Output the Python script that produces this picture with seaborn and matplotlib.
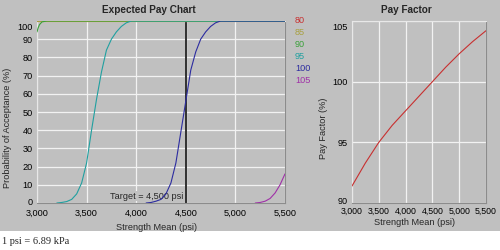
import matplotlib
matplotlib.use("Agg")
import matplotlib.pyplot as plt
import matplotlib.transforms as mtransforms
from matplotlib.lines import Line2D
from matplotlib.patches import Rectangle
import seaborn as sns
import pandas as pd

# ---------------- data ----------------
series_names = ["80", "85", "90", "95", "100", "105"]
series_colors = ["#c83030", "#a8a040", "#38a038", "#20a0a0", "#2c2ca0", "#a030a8"]

x_80 = [3000, 5500]
y_80 = [100, 100]
x_85 = [3000, 5500]
y_85 = [100, 100]
x_90 = [3000, 3010, 3025, 3050, 3100, 5500]
y_90 = [94, 96, 98, 99.5, 100, 100]
x_95 = [3200, 3250, 3300, 3350, 3400, 3450, 3500, 3550, 3600, 3650, 3700, 3750, 3800, 3850, 3900, 3950, 5500]
y_95 = [0, 0.3, 0.8, 2, 5, 11, 22, 40, 57, 72, 84, 90, 94, 97, 99, 100, 100]
x_100 = [4100, 4150, 4200, 4250, 4300, 4350, 4400, 4450, 4500, 4550, 4600, 4650, 4700, 4750, 4800, 4850, 5500]
y_100 = [0, 0.3, 1, 2, 5, 11, 22, 39, 56, 73, 83, 90, 94, 97, 99, 100, 100]
x_105 = [5200, 5250, 5300, 5350, 5400, 5450, 5500]
y_105 = [0, 0.3, 1, 2.5, 5.5, 10, 16]

target_psi = 4500
target_label = "Target = 4,500 psi"

pay_x = [3000, 3250, 3500, 3750, 4000, 4250, 4500, 4750, 5000, 5250, 5500]
pay_y = [91.4, 93.3, 95.0, 96.4, 97.6, 98.8, 100.0, 101.2, 102.3, 103.3, 104.2]

x_ticks = [3000, 3500, 4000, 4500, 5000, 5500]
x_ticklabels = ["3,000", "3,500", "4,000", "4,500", "5,000", "5,500"]
left_yticks = [0, 10, 20, 30, 40, 50, 60, 70, 80, 90, 100]
right_yticks = [90, 95, 100, 105]

# ---------------- build long table ----------------
xs = [x_80, x_85, x_90, x_95, x_100, x_105]
ys = [y_80, y_85, y_90, y_95, y_100, y_105]
rows = []
for name, xv, yv in zip(series_names, xs, ys):
    for a, b in zip(xv, yv):
        rows.append({"series": name, "x": a, "y": b})
df_pa = pd.DataFrame(rows)
df_pay = pd.DataFrame({"x": pay_x, "y": pay_y})
palette = dict(zip(series_names, series_colors))

# ---------------- style ----------------
sns.set_style("white")
plt.rcParams["font.family"] = ["Liberation Sans", "DejaVu Sans"]
BG = "#c0c0c0"
FS = 6.6

fig = plt.figure(figsize=(5, 2.5), dpi=100)
fig.patch.set_facecolor("white")
fig.patches.append(Rectangle((0, 19 / 250), 1, 231 / 250, transform=fig.transFigure,
                             facecolor=BG, edgecolor="none", zorder=-10))

ax1 = fig.add_axes([37 / 500, 1 - 203 / 250, 248 / 500, 182 / 250])
ax2 = fig.add_axes([352 / 500, 1 - 203 / 250, 134 / 500, 182 / 250])

for ax in (ax1, ax2):
    ax.set_facecolor(BG)
    ax.set_axisbelow(True)
    ax.grid(True, color="#f2f2f2", lw=0.9)
    for s in ("top", "left"):
        ax.spines[s].set_color("#e8e8e8")
        ax.spines[s].set_linewidth(0.8)
    for s in ("bottom", "right"):
        ax.spines[s].set_color("#8c8c8c")
        ax.spines[s].set_linewidth(0.8)
    ax.tick_params(length=0, labelsize=FS, colors="black")
    ax.tick_params(axis="y", pad=3)
    ax.set_xlim(3000, 5500)
    ax.set_xticks(x_ticks)
    ax.set_xticklabels(x_ticklabels)
ax1.tick_params(axis="x", pad=4)
ax2.tick_params(axis="x", pad=2.5, labelsize=6.3)

# left panel
sns.lineplot(data=df_pa, x="x", y="y", hue="series", hue_order=series_names,
             palette=palette, estimator=None, sort=False, lw=0.8, legend=False,
             ax=ax1, zorder=3)
ax1.set_ylim(0, 100)
ax1.set_yticks(left_yticks)
ax1.axvline(target_psi, color="#303030", lw=1.4, zorder=2.5)
ax1.annotate(target_label, xy=(target_psi, 0), xytext=(-1.5, 1.5), textcoords="offset points",
             ha="right", va="bottom", fontsize=FS, zorder=2.6,
             bbox=dict(boxstyle="square,pad=0.05", facecolor=BG, edgecolor="none"))
ax1.set_xlabel("")
ax1.set_ylabel("")

# right panel
sns.lineplot(data=df_pay, x="x", y="y", color="#c83030", lw=0.8, ax=ax2, zorder=3)
ax2.set_ylim(90, 105)
ax2.set_yticks(right_yticks)
ax2.set_xlabel("")
ax2.set_ylabel("")


def nudge(label, dy_px):
    label.set_transform(label.get_transform() +
                        mtransforms.ScaledTranslation(0, dy_px / 100, fig.dpi_scale_trans))


yl1 = ax1.get_yticklabels()
nudge(yl1[-1], -5)
nudge(yl1[0], 1.5)
yl2 = ax2.get_yticklabels()
nudge(yl2[-1], -6)
nudge(yl2[0], 2.5)

# legend as coloured text
handles = [Line2D([], [], color=c, lw=0) for c in series_colors]
fig.legend(handles, series_names, loc="upper left", bbox_to_anchor=(295 / 500, 1 - 16 / 250),
           frameon=False, handlelength=0, handletextpad=0, labelcolor=series_colors,
           fontsize=FS, labelspacing=0.33, borderpad=0, borderaxespad=0)

# titles and labels
fig.text(149 / 500, 1 - 10 / 250, "Expected Pay Chart", ha="center", va="center",
         fontsize=7.2, fontweight="bold")
fig.text(406 / 500, 1 - 10 / 250, "Pay Factor", ha="center", va="center",
         fontsize=7.2, fontweight="bold")
fig.text(8 / 500, 1 - 128 / 250, "Probability of Acceptance (%)", rotation=90,
         ha="center", va="center", fontsize=FS)
fig.text(324 / 500, 1 - 128 / 250, "Pay Factor (%)", rotation=90,
         ha="center", va="center", fontsize=FS)
fig.text(157 / 500, 1 - 228 / 250, "Strength Mean (psi)", ha="center", va="center", fontsize=FS)
fig.text(415 / 500, 1 - 222.5 / 250, "Strength Mean (psi)", ha="center", va="center", fontsize=FS)
fig.text(2 / 500, 1 - 242 / 250, "1 psi = 6.89 kPa", ha="left", va="center",
         fontsize=7.5, family=["Liberation Serif", "DejaVu Serif"])

fig.savefig("out.png", dpi=100, facecolor=fig.get_facecolor())
